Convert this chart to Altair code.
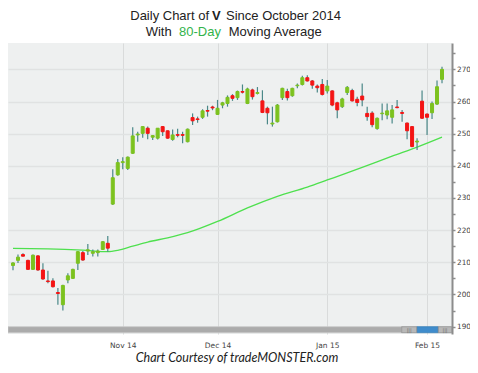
import altair as alt
import pandas as pd

# ---------------- data ----------------
day_index = list(range(1, 88))  # trading days, Oct 2 2014 .. Feb 5 2015

opens = [209.0, 210.6, 212.4, 210.6, 207.8, 212.0, 207.6, 204.2, 204.2, 200.6,
         196.8, 204.5, 205.0, 209.7, 213.0, 213.5, 212.8, 213.0, 214.0, 215.9,
         228.1, 237.2, 241.0, 239.2, 243.9, 249.6, 250.1, 251.7, 248.9, 248.6,
         252.2, 250.9, 248.2, 249.7, 249.7, 247.5, 255.0, 254.6, 255.1, 257.2,
         258.3, 256.0, 258.9, 259.4, 261.8, 261.2, 263.1, 259.4, 263.6, 262.5,
         260.2, 257.9, 253.0, 253.7, 261.2, 263.1, 261.8, 264.9, 265.3, 267.4,
         266.4, 264.8, 265.3, 263.3, 263.3, 259.6, 258.4, 262.8, 263.4, 260.7,
         261.7, 256.3, 256.4, 251.6, 256.2, 255.8, 255.1, 258.3, 256.6, 253.3,
         252.2, 247.4, 260.1, 256.1, 256.5, 259.2, 266.9]

closes = [209.8, 211.6, 211.9, 207.8, 212.2, 207.6, 204.8, 204.0, 202.4, 200.3,
          202.8, 205.8, 207.8, 213.3, 210.7, 213.9, 213.3, 213.5, 216.4, 214.4,
          236.3, 241.0, 241.3, 242.7, 249.3, 249.9, 252.2, 250.1, 249.4, 251.7,
          250.6, 248.6, 249.6, 249.5, 249.5, 251.4, 254.0, 254.4, 257.1, 257.0,
          258.0, 257.9, 259.6, 261.3, 261.0, 263.1, 262.9, 263.9, 261.5, 262.8,
          256.6, 256.5, 253.3, 258.9, 264.1, 261.2, 264.1, 265.1, 267.4, 266.4,
          265.1, 264.3, 262.2, 264.8, 258.9, 257.4, 260.8, 264.4, 260.2, 259.7,
          260.5, 255.3, 252.8, 254.8, 256.4, 257.1, 257.4, 258.1, 256.3, 250.9,
          246.0, 247.7, 254.8, 255.1, 259.4, 264.6, 270.0]

highs = [210.0, 212.4, 212.8, 210.8, 212.4, 212.2, 209.7, 207.4, 205.0, 202.0,
         203.0, 206.6, 208.0, 213.5, 213.5, 215.7, 214.0, 214.0, 216.6, 218.2,
         238.9, 242.1, 242.7, 242.9, 252.0, 250.6, 252.3, 252.2, 249.6, 251.8,
         252.4, 251.0, 251.3, 251.5, 250.6, 251.6, 256.3, 255.3, 257.6, 258.7,
         258.7, 260.5, 259.9, 261.9, 262.3, 263.4, 265.3, 264.3, 264.0, 264.5,
         263.5, 258.4, 258.4, 259.2, 264.3, 264.0, 264.3, 265.6, 268.0, 268.2,
         266.7, 265.3, 267.0, 266.7, 263.5, 259.9, 261.2, 264.8, 264.0, 261.5,
         265.6, 258.4, 257.0, 255.0, 259.4, 259.4, 258.9, 260.5, 257.4, 253.5,
         252.4, 248.6, 263.4, 256.3, 260.0, 266.5, 270.8]

lows = [207.5, 209.8, 211.8, 207.6, 207.6, 207.4, 204.6, 203.5, 202.2, 196.8,
        195.0, 203.5, 204.8, 207.6, 210.5, 212.3, 211.8, 211.8, 213.8, 213.3,
        227.8, 236.9, 238.9, 238.7, 243.7, 247.5, 248.7, 248.3, 248.0, 248.2,
        249.3, 248.4, 247.8, 248.9, 247.0, 247.3, 252.7, 253.4, 254.6, 255.3,
        257.3, 255.8, 257.9, 258.4, 260.2, 260.5, 262.5, 259.2, 260.6, 262.2,
        256.4, 252.9, 252.2, 253.5, 260.5, 260.3, 261.5, 264.1, 265.0, 266.2,
        264.0, 262.8, 261.9, 262.5, 258.5, 254.8, 258.0, 262.0, 260.0, 258.5,
        258.5, 254.0, 252.0, 251.2, 254.2, 254.5, 253.2, 257.9, 253.7, 248.3,
        245.8, 244.9, 254.6, 249.6, 254.6, 258.9, 265.7]

# 80-day moving average, read at selected trading days
ma_days = [1, 8, 15, 20, 22, 25, 28, 32, 36, 42, 48, 54, 60, 64, 71, 77, 82, 87]
ma_values = [214.3, 214.2, 213.8, 213.3, 213.7, 215.0, 216.3, 217.6, 219.2, 222.7,
             226.9, 230.5, 233.4, 235.6, 239.5, 243.0, 245.8, 248.9]

# x-axis tick labels (first trading day of each month)
month_days = [23, 42, 64, 84]
month_labels = ["Nov 14", "Dec 14", "Jan 15", "Feb 15"]

# ---------------- build ----------------
df = pd.DataFrame({"i": day_index, "open": opens, "close": closes,
                   "high": highs, "low": lows})
df["dir"] = ["up" if c >= o else "down" for o, c in zip(opens, closes)]
ma_df = pd.DataFrame({"i": ma_days, "ma": ma_values})

label_expr = "".join(f"datum.value == {d} ? '{l}' : " for d, l in zip(month_days, month_labels)) + "''"

W, H = 444, 291
xs = alt.Scale(domain=[1, 88], nice=False, zero=False)
ys = alt.Scale(domain=[187.7, 278.2], nice=False, zero=False)

x_axis = alt.Axis(values=month_days, labelExpr=label_expr, grid=True, gridColor="#d9dbdb",
                  gridWidth=1, ticks=False, domain=False, labelFont="DejaVu Sans",
                  labelFontSize=7.5, labelColor="#444444", labelPadding=7, title=None,
                  labelOverlap=False)
y_axis = alt.Axis(orient="right", values=list(range(190, 280, 5)),
                  labelExpr="datum.value % 10 == 0 ? datum.label : ''",
                  domainColor="#8c8c8c", domainWidth=2, tickColor="#8c8c8c", tickSize=3,
                  tickWidth=1.5, labelFont="DejaVu Sans", labelFontSize=7.3,
                  labelColor="#444444", labelPadding=1.5, gridColor="#e0e2e2", gridWidth=1.5,
                  gridOpacity={"condition": {"test": "datum.value % 10 == 0", "value": 1}, "value": 0},
                  title=None, labelOverlap=False)

color_scale = alt.Scale(domain=["up", "down"], range=["#7cc21f", "#f41414"])

wicks = alt.Chart(df).mark_rule(color="#4a8888", strokeWidth=1.2).encode(
    x=alt.X("i:Q", scale=xs, axis=x_axis),
    y=alt.Y("low:Q", scale=ys, axis=y_axis),
    y2="high:Q",
)

bodies = alt.Chart(df).mark_bar(size=3, strokeWidth=1).encode(
    x=alt.X("i:Q", scale=xs, axis=x_axis),
    y=alt.Y("open:Q", scale=ys, axis=y_axis),
    y2="close:Q",
    color=alt.Color("dir:N", scale=color_scale, legend=None),
    stroke=alt.Stroke("dir:N", scale=color_scale, legend=None),
)

ma_line = alt.Chart(ma_df).mark_line(color="#4ee04e", strokeWidth=1.3, interpolate="monotone").encode(
    x=alt.X("i:Q", scale=xs, axis=x_axis),
    y=alt.Y("ma:Q", scale=ys, axis=y_axis),
)

one = pd.DataFrame({"a": [0]})

def txt(s, x, y, size=13, color="#222222", weight="normal", style="normal", align="left",
        font="Liberation Sans"):
    return alt.Chart(one).mark_text(text=s, align=align, baseline="alphabetic", font=font,
                                    fontSize=size, color=color, fontWeight=weight,
                                    fontStyle=style).encode(x=alt.value(x), y=alt.value(y))

titles = [
    txt("Daily Chart of", 201, -22.8, align="right"),
    txt("V", 204, -22.8, weight="bold"),
    txt("Since October 2014", 218, -22.8),
    txt("With", 137.7, -7.2),
    txt("80-Day", 171, -7.2, color="#33b34a"),
    txt("Moving Average", 220.7, -7.2),
    txt("Chart Courtesy of tradeMONSTER.com", 229, 319.3, size=12.5, style="italic",
        align="center", font="Lato"),
]

def rect(x1, x2, y1, y2, fill, stroke):
    return alt.Chart(one).mark_rect(fill=fill, stroke=stroke, strokeWidth=0.8).encode(
        x=alt.value(x1), x2=alt.value(x2), y=alt.value(y1), y2=alt.value(y2))

scroll = [
    rect(0, 393.7, 283.7, 289.7, "#ababab", "#c8c8c8"),
    rect(408.7, 430.3, 283.7, 289.7, "#3f8ccc", "#3a7fb8"),
    rect(393.7, 408.7, 283.7, 289.7, "#b8b8b8", "#8f8f8f"),
    rect(430.3, 443.7, 283.7, 289.7, "#b8b8b8", "#8f8f8f"),
    txt("|||", 401.2, 289, size=5, color="#666666", align="center", font="DejaVu Sans"),
    txt("|||", 437, 289, size=5, color="#666666", align="center", font="DejaVu Sans"),
]

chart = alt.layer(ma_line, wicks, bodies, *scroll, *titles).properties(
    width=W, height=H,
    autosize=alt.AutoSizeParams(type="none"),
    padding={"left": 0, "top": 35, "right": 18, "bottom": 31},
    background="white",
).configure_view(fill="#eef0f0", stroke=None)

chart.save("out.html", embed_options={"renderer": "svg", "actions": False})
